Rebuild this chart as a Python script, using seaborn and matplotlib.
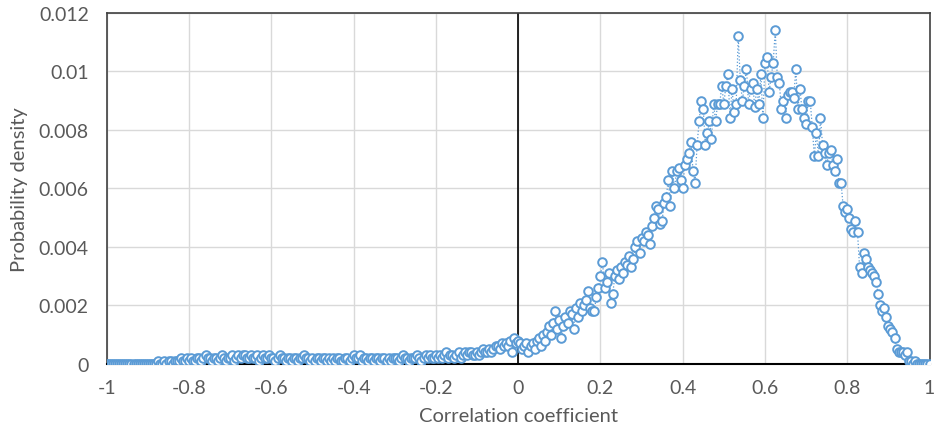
import numpy as np
import pandas as pd
import seaborn as sns
import matplotlib.pyplot as plt

# correlation coefficient from -1 to 1, step 0.005
corr = np.round(np.arange(-1.0, 1.0001, 0.005), 3)

# density values in units of 1e-4, 10 points per 0.05
dens_neg = [
    0, 0, 0, 0, 0, 0, 0, 0, 0, 0,
    0, 0, 0, 0, 0, 0, 0, 0, 0, 0,
    0, 0, 0, 0, 0, 1, 0, 0, 1, 0,
    1, 1, 0, 1, 1, 1, 2, 1, 1, 2,
    1, 2, 1, 1, 2, 2, 1, 2, 3, 2,
    2, 1, 2, 2, 1, 2, 3, 2, 1, 2,
    2, 3, 1, 2, 3, 2, 3, 3, 2, 2,
    3, 2, 2, 3, 1, 2, 3, 2, 2, 3,
    2, 2, 1, 2, 3, 2, 2, 1, 2, 2,
    1, 2, 2, 1, 2, 2, 3, 2, 2, 1,
    2, 1, 2, 2, 1, 2, 2, 1, 2, 1,
    2, 1, 2, 2, 1, 1, 2, 2, 1, 2,
    3, 2, 2, 3, 1, 2, 2, 1, 2, 2,
    1, 2, 2, 1, 2, 2, 1, 2, 1, 2,
    2, 2, 1, 2, 3, 2, 2, 1, 2, 2,
    2, 3, 2, 1, 2, 3, 2, 3, 2, 2,
    3, 2, 3, 2, 3, 4, 2, 3, 3, 2,
    3, 4, 2, 3, 4, 3, 4, 4, 3, 3,
    4, 3, 4, 5, 4, 4, 5, 4, 5, 6,
    6, 5, 7, 6, 7, 6, 8, 4, 9, 7,
]
dens_pos = [
    8, 7, 5, 6, 7, 4, 6, 7, 5, 8,
    9, 6, 10, 8, 11, 13, 10, 14, 18, 12,
    15, 9, 13, 16, 14, 18, 17, 12, 19, 16,
    21, 18, 20, 22, 25, 19, 18, 18, 23, 26,
    30, 35, 26, 28, 31, 21, 24, 30, 32, 29,
    33, 31, 35, 34, 37, 33, 36, 40, 42, 38,
    43, 42, 45, 44, 41, 47, 50, 54, 53, 48,
    49, 55, 57, 63, 54, 66, 60, 66, 67, 63,
    60, 68, 70, 72, 76, 66, 62, 75, 83, 90,
    87, 75, 79, 83, 77, 89, 83, 89, 89, 95,
    89, 95, 99, 84, 94, 86, 89, 112, 97, 90,
    95, 101, 89, 94, 96, 88, 94, 89, 99, 84,
    103, 105, 93, 98, 103, 114, 98, 96, 87, 90,
    84, 92, 93, 93, 91, 101, 87, 94, 87, 84,
    82, 90, 90, 81, 71, 79, 71, 84, 75, 72,
    68, 72, 73, 68, 66, 70, 62, 62, 54, 52,
    53, 50, 46, 45, 49, 45, 33, 31, 38, 36,
    33, 32, 31, 30, 28, 24, 20, 18, 19, 16,
    13, 12, 11, 9, 5, 4, 4, 4, 3, 4,
    1, 1, 0, 1, 0, 0, 0, 0, 0, 0,
    0,
]
density = np.array(dens_neg + dens_pos) * 1e-4

xticks = [-1, -0.8, -0.6, -0.4, -0.2, 0, 0.2, 0.4, 0.6, 0.8, 1]
xtick_labels = ["-1", "-0.8", "-0.6", "-0.4", "-0.2", "0", "0.2", "0.4", "0.6", "0.8", "1"]
yticks = [0, 0.002, 0.004, 0.006, 0.008, 0.01, 0.012]
ytick_labels = ["0", "0.002", "0.004", "0.006", "0.008", "0.01", "0.012"]

df = pd.DataFrame({"corr": corr, "density": density})

sns.set_style("white")
plt.rcParams["font.family"] = ["Lato", "DejaVu Sans"]

blue = "#5B9BD5"
grey = "#595959"

fig = plt.figure(figsize=(9.37, 4.35), dpi=100)
ax = fig.add_axes([0.114, 0.161, 0.878, 0.807])

ax.grid(True, color="#D9D9D9", linewidth=1)
ax.set_axisbelow(True)
ax.axvline(0, color="black", linewidth=1.2, zorder=1)

sns.lineplot(data=df, x="corr", y="density", ax=ax, color=blue,
             linestyle=":", linewidth=0.9, marker="o", markersize=6.2,
             markerfacecolor="white", markeredgecolor=blue,
             markeredgewidth=1.4, zorder=3)

ax.set_xlim(-1, 1)
ax.set_ylim(0, 0.012)
ax.set_xticks(xticks)
ax.set_xticklabels(xtick_labels)
ax.set_yticks(yticks)
ax.set_yticklabels(ytick_labels)
ax.tick_params(axis="both", length=0, labelsize=14, labelcolor=grey)
ax.tick_params(axis="y", pad=13)
ax.tick_params(axis="x", pad=11)

for s in ["left", "top", "right"]:
    ax.spines[s].set_color("#404040")
    ax.spines[s].set_linewidth(1.2)
ax.spines["bottom"].set_color("black")
ax.spines["bottom"].set_linewidth(1.5)

ax.set_xlabel("Correlation coefficient", fontsize=14.5, color=grey, labelpad=8)
ax.set_ylabel("Probability density", fontsize=14.5, color=grey, labelpad=8)

fig.savefig("out.png", dpi=100)
